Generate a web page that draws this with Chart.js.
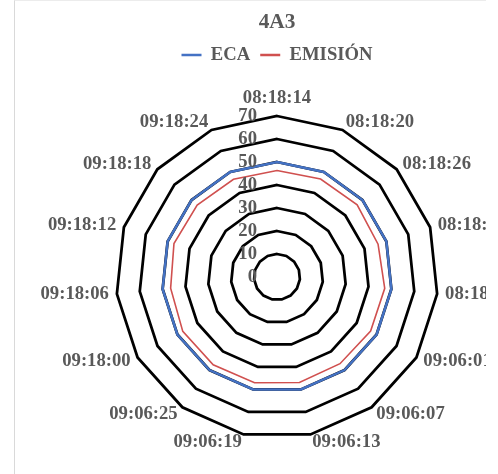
<!DOCTYPE html>
<html>
<head>
<meta charset="utf-8">
<script src="https://cdn.jsdelivr.net/npm/chart.js@4.4.0/dist/chart.umd.min.js"></script>
<style>
  html, body { margin: 0; padding: 0; background: #fff; width: 498px; height: 474px; overflow: hidden; }
  #frame { position: absolute; left: 0; top: 0; width: 486px; height: 474px; overflow: hidden; }
  #edge { position: absolute; left: 14px; top: 0; width: 472px; height: 474px; box-sizing: border-box;
          border-left: 1px solid #d9d9d9; border-top: 1px solid #ececec; pointer-events: none; }
  canvas { position: absolute; left: 0; top: 0; }
</style>
</head>
<body>
<div id="frame"><canvas id="chart" width="486" height="482"></canvas></div>
<div id="edge"></div>
<script>
// Sample times (one spoke each, clockwise from the top)
const sampleTimes = [
  '08:18:14', '08:18:20', '08:18:26', '08:18:32', '08:18:38',
  '09:06:01', '09:06:07', '09:06:13', '09:06:19', '09:06:25',
  '09:18:00', '09:18:06', '09:18:12', '09:18:18', '09:18:24'
];

// Series
const seriesNames = ['ECA', 'EMISIÓN'];
const ecaValues = [50, 50, 50, 50, 50, 50, 50, 50, 50, 50, 50, 50, 50, 50, 50];
const emisionValues = [46.3, 46.6, 46.9, 46.2, 47.1, 47.0, 46.6, 46.9, 47.0, 47.2, 47.3, 46.5, 47.1, 46.7, 46.5];

// Radial value axis ticks
const radialTicks = [0, 10, 20, 30, 40, 50, 60, 70];

const textColor = '#595959';
const serif = "'Liberation Serif', 'Times New Roman', serif";
const labelSize = 18.67;

Chart.defaults.font.family = serif;

// Draws the value labels beside the vertical axis and the time labels round the outer ring
const radarText = {
  id: 'radarText',
  afterDatasetsDraw(chart) {
    const r = chart.scales.r;
    const ctx = chart.ctx;
    ctx.save();
    ctx.font = 'bold ' + labelSize + 'px ' + serif;
    ctx.fillStyle = textColor;
    ctx.textBaseline = 'middle';

    ctx.textAlign = 'right';
    r.ticks.forEach(t => {
      const p = r.getPointPositionForValue(0, t.value);
      ctx.fillText(t.label, r.xCenter - 20, p.y);
    });

    chart.data.labels.forEach((lab, i) => {
      const p = r.getPointPosition(i, r.drawingArea + 8);
      const s = Math.sin(r.getIndexAngle(i));
      let y = p.y;
      if (Math.abs(s) < 1e-6) {
        ctx.textAlign = 'center';
        y -= 10;
      } else {
        ctx.textAlign = s > 0 ? 'left' : 'right';
      }
      ctx.fillText(lab, p.x, y);
    });
    ctx.restore();
  }
};

new Chart(document.getElementById('chart'), {
  type: 'radar',
  data: {
    labels: sampleTimes,
    datasets: [
      {
        label: seriesNames[0],
        data: ecaValues,
        borderColor: '#4472C4',
        backgroundColor: 'rgba(0,0,0,0)',
        borderWidth: 2.5,
        pointRadius: 0,
        fill: false
      },
      {
        label: seriesNames[1],
        data: emisionValues,
        borderColor: '#D0504F',
        backgroundColor: 'rgba(0,0,0,0)',
        borderWidth: 1.6,
        pointRadius: 0,
        fill: false
      }
    ]
  },
  options: {
    responsive: false,
    devicePixelRatio: 1,
    animation: false,
    layout: { padding: { left: 116, right: 48, top: 0, bottom: 1.5 } },
    plugins: {
      title: {
        display: true,
        text: '4A3',
        color: textColor,
        font: { size: 21.33, weight: 'bold', family: serif },
        padding: { top: 9.2, bottom: 0.87 }
      },
      legend: {
        display: true,
        position: 'top',
        labels: {
          color: textColor,
          font: { size: labelSize, weight: 'bold', family: serif },
          boxWidth: 20,
          boxHeight: 2.5,
          padding: 10,
          generateLabels: (chart) => chart.data.datasets.map((ds, i) => ({
            text: ds.label,
            fillStyle: ds.borderColor,
            strokeStyle: ds.borderColor,
            fontColor: textColor,
            lineWidth: 0,
            hidden: false,
            datasetIndex: i
          }))
        }
      },
      tooltip: { enabled: false }
    },
    scales: {
      r: {
        min: radialTicks[0],
        max: radialTicks[radialTicks.length - 1],
        ticks: { stepSize: radialTicks[1] - radialTicks[0], display: false },
        grid: { color: '#000000', lineWidth: 2.75 },
        angleLines: { display: false },
        pointLabels: { display: false }
      }
    }
  },
  plugins: [radarText]
});
</script>
</body>
</html>
